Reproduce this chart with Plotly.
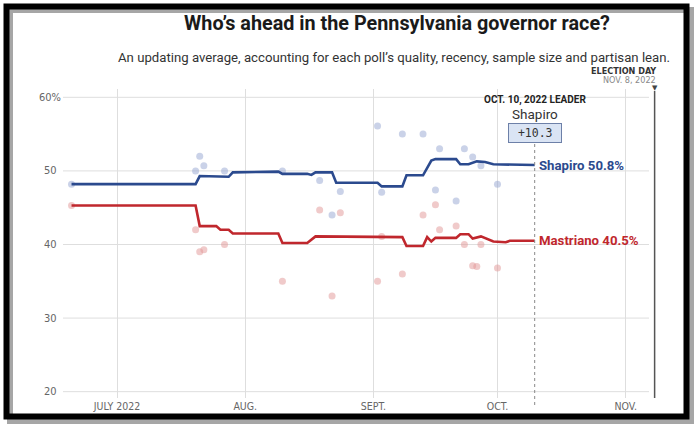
import plotly.graph_objects as go

# ---------------- data ----------------
shapiro_avg_dates = ["2022-06-20", "2022-07-20", "2022-07-21", "2022-07-26", "2022-07-27", "2022-07-28",
                     "2022-07-29", "2022-08-09", "2022-08-10", "2022-08-16", "2022-08-17", "2022-08-18",
                     "2022-08-22", "2022-08-23", "2022-09-02", "2022-09-03", "2022-09-08", "2022-09-09",
                     "2022-09-13", "2022-09-15", "2022-09-16", "2022-09-21", "2022-09-22", "2022-09-24",
                     "2022-09-26", "2022-09-28", "2022-09-30", "2022-10-03", "2022-10-04", "2022-10-10"]
shapiro_avg = [48.2, 48.2, 49.3, 49.3, 49.2, 49.2,
               49.8, 49.9, 49.6, 49.6, 49.45, 49.8,
               49.8, 48.4, 48.4, 47.9, 47.9, 49.4,
               49.4, 51.4, 51.6, 51.6, 50.9, 50.9,
               51.3, 51.2, 50.9, 50.9, 50.8, 50.8]

mastriano_avg_dates = ["2022-06-20", "2022-07-20", "2022-07-21", "2022-07-25", "2022-07-26", "2022-07-28",
                       "2022-07-29", "2022-08-09", "2022-08-10", "2022-08-16", "2022-08-18", "2022-09-08",
                       "2022-09-09", "2022-09-13", "2022-09-14", "2022-09-15", "2022-09-16", "2022-09-21",
                       "2022-09-22", "2022-09-24", "2022-09-25", "2022-09-27", "2022-09-30", "2022-10-03",
                       "2022-10-04", "2022-10-10"]
mastriano_avg = [45.3, 45.3, 42.5, 42.5, 42.0, 42.0,
                 41.5, 41.5, 40.2, 40.2, 41.1, 41.0,
                 39.8, 39.8, 41.0, 40.4, 40.9, 40.9,
                 41.4, 41.4, 40.8, 41.1, 40.4, 40.3,
                 40.5, 40.5]

shapiro_poll_dates = ["2022-06-20", "2022-07-20", "2022-07-21", "2022-07-22", "2022-07-27", "2022-08-10",
                      "2022-08-19", "2022-08-22", "2022-08-24", "2022-09-02", "2022-09-03", "2022-09-08",
                      "2022-09-13", "2022-09-16", "2022-09-17", "2022-09-21", "2022-09-23", "2022-09-25",
                      "2022-09-27", "2022-10-01"]
shapiro_polls = [48.2, 50.0, 52.0, 50.7, 50.0, 50.0,
                 48.7, 44.0, 47.2, 56.1, 47.1, 55.0,
                 55.0, 47.4, 53.0, 45.9, 53.0, 51.9,
                 50.7, 48.2]

mastriano_poll_dates = ["2022-06-20", "2022-07-20", "2022-07-21", "2022-07-22", "2022-07-27", "2022-08-10",
                        "2022-08-19", "2022-08-22", "2022-08-24", "2022-09-02", "2022-09-03", "2022-09-08",
                        "2022-09-13", "2022-09-16", "2022-09-17", "2022-09-21", "2022-09-23", "2022-09-25",
                        "2022-09-26", "2022-09-27", "2022-10-01"]
mastriano_polls = [45.3, 42.0, 39.0, 39.3, 40.0, 35.0,
                   44.7, 33.0, 44.3, 35.0, 41.1, 36.0,
                   44.0, 45.4, 42.0, 42.5, 40.0, 37.1,
                   37.0, 40.0, 36.8]

x_tick_vals = ["2022-07-01", "2022-08-01", "2022-09-01", "2022-10-01", "2022-11-01"]
x_tick_text = ["JULY 2022", "AUG.", "SEPT.", "OCT.", "NOV."]
y_tick_vals = [20, 30, 40, 50, 60]
y_tick_text = ["20", "30", "40", "50", "60%"]

leader_date = "2022-10-10"
election_date = "2022-11-08"

# ---------------- layout helpers (pixel -> paper) ----------------
W, H = 700, 433
L, R, T, B = 63, 656, 89, 398


def px(x):
    return (x - L) / (R - L)


def py(y):
    return (B - y) / (B - T)


BLUE = "#2b4a8e"
RED = "#c0272d"
COND = "Liberation Sans Narrow, DejaVu Sans Condensed, Roboto, sans-serif"

fig = go.Figure()

fig.add_trace(go.Scatter(x=shapiro_poll_dates, y=shapiro_polls, mode="markers",
                         marker=dict(size=7, color="rgba(150,165,210,0.5)"),
                         hoverinfo="skip", showlegend=False))
fig.add_trace(go.Scatter(x=mastriano_poll_dates, y=mastriano_polls, mode="markers",
                         marker=dict(size=7, color="rgba(225,150,150,0.5)"),
                         hoverinfo="skip", showlegend=False))
fig.add_trace(go.Scatter(x=shapiro_avg_dates, y=shapiro_avg, mode="lines",
                         line=dict(color=BLUE, width=2.6), showlegend=False))
fig.add_trace(go.Scatter(x=mastriano_avg_dates, y=mastriano_avg, mode="lines",
                         line=dict(color=RED, width=2.6), showlegend=False))

shapes = []
# horizontal gridlines
for v in y_tick_vals:
    shapes.append(dict(type="line", xref="paper", yref="y", x0=0, x1=px(649), y0=v, y1=v,
                       line=dict(color="#dedede", width=1), layer="below"))
# election day line
shapes.append(dict(type="line", xref="x", yref="paper", x0=election_date, x1=election_date,
                   y0=0, y1=py(91), line=dict(color="#555555", width=1.5)))
# leader dotted line
shapes.append(dict(type="line", xref="x", yref="paper", x0=leader_date, x1=leader_date,
                   y0=py(405), y1=py(141), line=dict(color="#888888", width=1, dash="dot")))
# frame shadow + frame
shapes.append(dict(type="rect", xref="paper", yref="paper", x0=px(10), x1=px(691), y0=py(421), y1=py(10),
                   line=dict(color="rgba(0,0,0,0.35)", width=6)))
shapes.append(dict(type="rect", xref="paper", yref="paper", x0=px(6.5), x1=px(686.5), y0=py(416.5), y1=py(6.5),
                   line=dict(color="#000000", width=6)))

ann = []
for v, t in zip(y_tick_vals, y_tick_text):
    ann.append(dict(x=px(50), xref="paper", y=v, yref="y", text=t, showarrow=False,
                    xanchor="center", yanchor="middle", font=dict(family=COND, size=11, color="#666666")))

ann.append(dict(x=px(396.5), y=py(24), xref="paper", yref="paper", showarrow=False,
                text="<b>Who’s ahead in the Pennsylvania governor race?</b>",
                xanchor="center", yanchor="middle", font=dict(family="Roboto", size=19.8, color="#1a1a1a")))
ann.append(dict(x=px(672), y=py(58), xref="paper", yref="paper", showarrow=False,
                text="An updating average, accounting for each poll’s quality, recency, sample size and partisan lean.",
                xanchor="right", yanchor="middle", font=dict(family="Roboto", size=13.2, color="#333333")))
ann.append(dict(x=px(658), y=py(70.5), xref="paper", yref="paper", showarrow=False,
                text="<b>ELECTION DAY</b>", xanchor="right", yanchor="middle",
                font=dict(family=COND, size=9, color="#333333")))
ann.append(dict(x=px(658), y=py(80.5), xref="paper", yref="paper", showarrow=False,
                text="NOV. 8, 2022", xanchor="right", yanchor="middle",
                font=dict(family=COND, size=9, color="#888888")))
ann.append(dict(x=election_date, xref="x", y=py(88), yref="paper", showarrow=False,
                text="▼", xanchor="center", yanchor="middle",
                font=dict(family="DejaVu Sans", size=7, color="#444444")))

lead = round(shapiro_avg[-1] - mastriano_avg[-1], 1)
ann.append(dict(x=leader_date, xref="x", y=py(100), yref="paper", showarrow=False,
                text="<b>OCT. 10, 2022 LEADER</b>", xanchor="center", yanchor="middle",
                font=dict(family="Roboto", size=10, color="#222222")))
ann.append(dict(x=leader_date, xref="x", y=py(114), yref="paper", showarrow=False,
                text="Shapiro", xanchor="center", yanchor="middle",
                font=dict(family="Roboto", size=13.5, color="#333333")))
ann.append(dict(x=leader_date, xref="x", y=py(132.5), yref="paper", showarrow=False,
                text=f" +{lead} ", xanchor="center", yanchor="middle",
                font=dict(family="DejaVu Sans Mono", size=11.5, color="#333333"),
                bgcolor="#dae4f4", bordercolor="#6d80a8", borderwidth=1, borderpad=2))

ann.append(dict(x=leader_date, xref="x", y=shapiro_avg[-1], yref="y", showarrow=False,
                text=f"<b>Shapiro {shapiro_avg[-1]}%</b>", xanchor="left", yanchor="middle", xshift=2,
                font=dict(family="Roboto", size=13.2, color=BLUE)))
ann.append(dict(x=leader_date, xref="x", y=mastriano_avg[-1], yref="y", showarrow=False,
                text=f"<b>Mastriano {mastriano_avg[-1]}%</b>", xanchor="left", yanchor="middle", xshift=2,
                font=dict(family="Roboto", size=13.2, color=RED)))

fig.update_layout(
    width=W, height=H,
    margin=dict(l=L, r=W - R, t=T, b=H - B, pad=0),
    paper_bgcolor="white", plot_bgcolor="white",
    xaxis=dict(type="date", range=["2022-06-17 22:30", "2022-11-08 08:00"],
               tickvals=x_tick_vals, ticktext=x_tick_text, showgrid=True, gridcolor="#dedede",
               gridwidth=1, zeroline=False, showline=False, ticks="",
               tickfont=dict(family=COND, size=10.5, color="#666666"), fixedrange=True),
    yaxis=dict(range=[19.14, 61.13], showgrid=False, zeroline=False, showticklabels=False,
               showline=False, fixedrange=True),
    shapes=shapes, annotations=ann, showlegend=False,
)

fig.write_html("out.html", config={"displayModeBar": False},
               post_script="document.body.style.margin='0';document.body.style.overflow='hidden';")
